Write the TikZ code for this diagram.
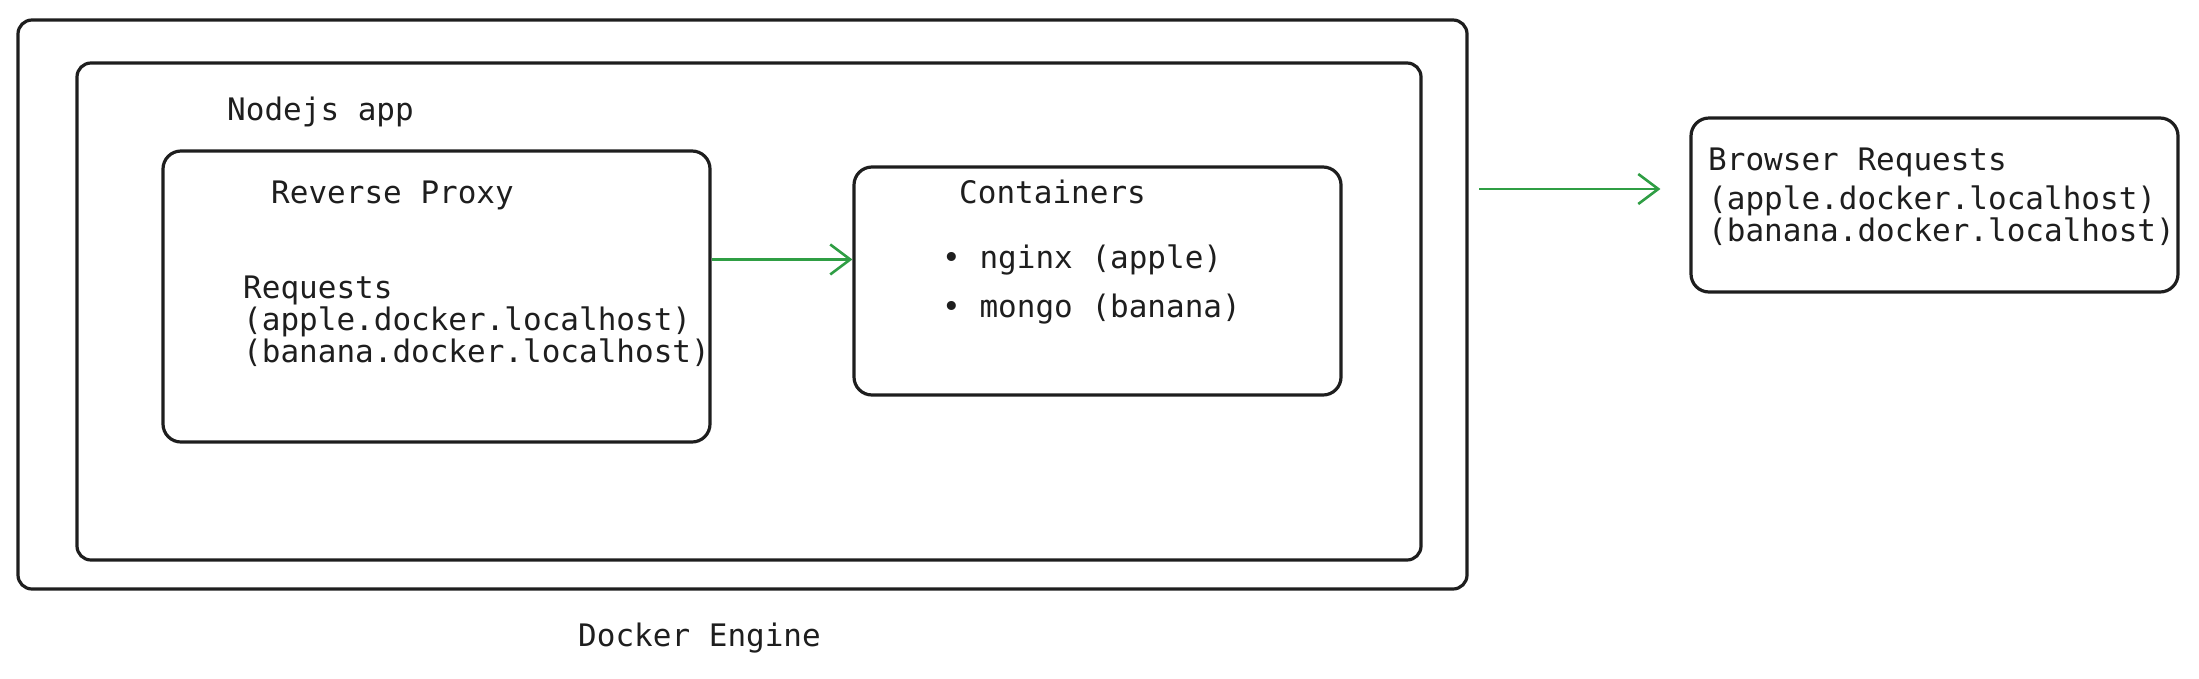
\documentclass[tikz,border=0pt]{standalone}
\usepackage{fontspec}
\usepackage{tikz}
\usetikzlibrary{arrows.meta}
\newfontfamily\codefont{DejaVu Sans Mono}
\definecolor{ink}{HTML}{1E1E1E}
\definecolor{vert}{HTML}{2F9E44}

\begin{document}
\begin{tikzpicture}[x=1pt,y=-1pt,
  boite/.style={draw=ink, line width=3.2pt, rounded corners=#1, inner sep=0pt},
  boite/.default=18pt,
  texte/.style={font=\codefont\fontsize{31}{32}\selectfont, text=ink, inner sep=0pt, anchor=base west, align=left},
  fleche/.style={draw=vert, line width=2.6pt, -{Straight Barb[length=20pt,width=30pt,line width=2.6pt]}}]
% cadre
\useasboundingbox (0,0) rectangle (2199,678);
% boites
\node[boite=14pt, minimum width=1449pt, minimum height=569pt] (docker) at (742.5,304.5) {};
\node[boite=14pt, minimum width=1344pt, minimum height=497pt] (nodejs) at (749,311.5) {};
\node[boite, minimum width=547pt, minimum height=291pt] (proxy) at (436.5,296.5) {};
\node[boite, minimum width=487pt, minimum height=228pt] (conteneurs) at (1097.5,281) {};
\node[boite, minimum width=487pt, minimum height=174pt] (navigateur) at (1934.5,205) {};
% textes (ancre sur la derniere ligne)
\node[texte] (nodejs-titre) at (227,120) {Nodejs app};
\node[texte] (proxy-titre) at (271,203) {Reverse Proxy};
\node[texte] (proxy-req) at (243,362) {Requests\\(apple.docker.localhost)\\(banana.docker.localhost)};
\node[texte] (cont-titre) at (959,203) {Containers};
\node[texte] (nginx) at (942,268) {• nginx (apple)};
\node[texte] (mongo) at (942,317) {• mongo (banana)};
\node[texte] (nav-req) at (1708,241) {Browser Requests\\[7pt](apple.docker.localhost)\\(banana.docker.localhost)};
\node[texte] (docker-titre) at (578,646) {Docker Engine};
% fleches
\draw[fleche] (proxy.east |- nginx) -- (conteneurs.west |- nginx);
\coordinate (sortie) at (1479,189);
\draw[fleche] (sortie) -- ([xshift=-29pt]navigateur.west |- sortie);
\end{tikzpicture}
\end{document}
